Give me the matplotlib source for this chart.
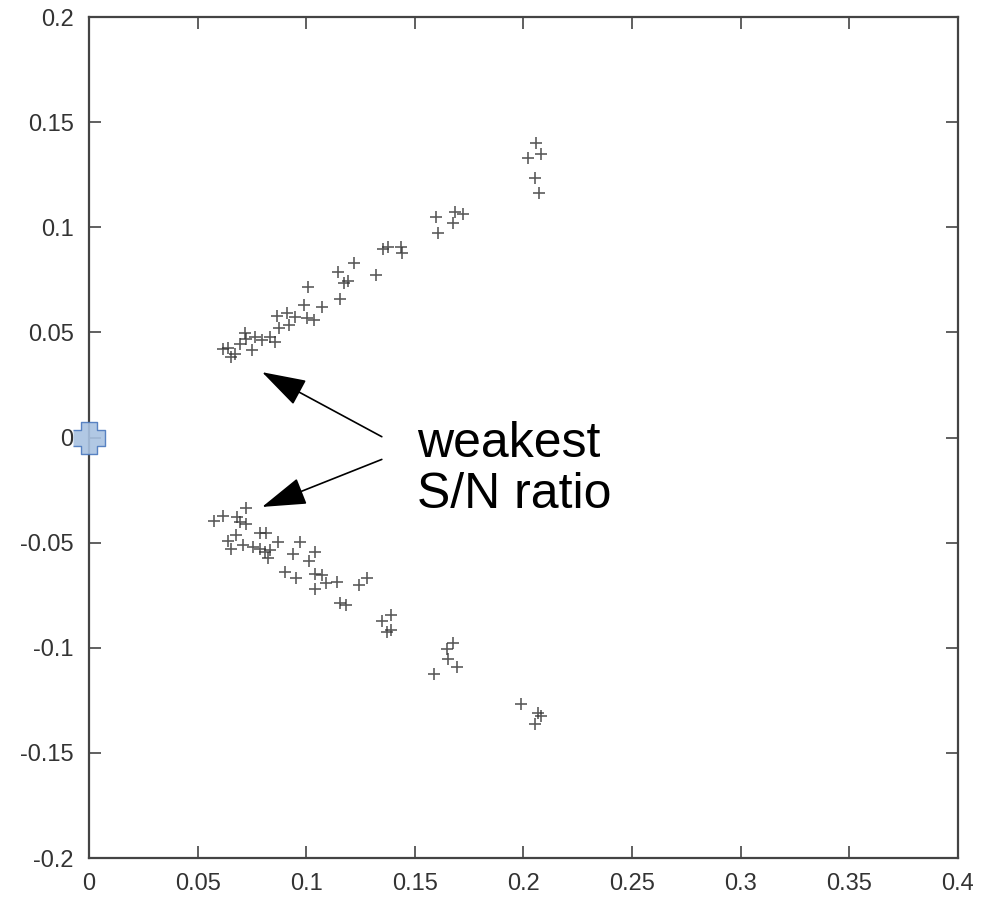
import numpy as np
import matplotlib
matplotlib.use('Agg')
import matplotlib.pyplot as plt

plt.rcParams['font.family'] = ['Liberation Sans', 'DejaVu Sans']
plt.rcParams['axes.unicode_minus'] = False

# upper branch (x, y)
upper_x = [0.0617, 0.0656, 0.0671, 0.0694, 0.0718, 0.0749, 0.0764, 0.0795, 0.0833, 0.0856,
           0.0864, 0.0876, 0.0911, 0.0923, 0.0949, 0.0988, 0.1003, 0.1006, 0.1034, 0.1073,
           0.1145, 0.1157, 0.1173, 0.1191, 0.1222, 0.1319, 0.1355, 0.1376, 0.1435, 0.1443,
           0.1597, 0.1608, 0.1675, 0.1685, 0.1721, 0.2022, 0.2060, 0.2080, 0.2052, 0.2071,
           0.0640, 0.0725]
upper_y = [0.0420, 0.0381, 0.0397, 0.0445, 0.0496, 0.0416, 0.0479, 0.0464, 0.0479, 0.0456,
           0.0578, 0.0519, 0.0594, 0.0535, 0.0575, 0.0630, 0.0567, 0.0714, 0.0559, 0.0622,
           0.0789, 0.0657, 0.0733, 0.0746, 0.0831, 0.0773, 0.0895, 0.0905, 0.0905, 0.0876,
           0.1050, 0.0971, 0.1022, 0.1074, 0.1062, 0.1331, 0.1402, 0.1348, 0.1236, 0.1161,
           0.0425, 0.0470]

# lower branch (x, y)
lower_x = [0.0574, 0.0617, 0.0682, 0.0722, 0.0694, 0.0725, 0.0676, 0.0640, 0.0656, 0.0710,
           0.0756, 0.0787, 0.0815, 0.0787, 0.0810, 0.0833, 0.0825, 0.0872, 0.0938, 0.0972,
           0.1042, 0.1011, 0.0903, 0.0954, 0.1042, 0.1073, 0.1093, 0.1042, 0.1142, 0.1242,
           0.1281, 0.1157, 0.1185, 0.1350, 0.1392, 0.1370, 0.1389, 0.1675, 0.1648, 0.1654,
           0.1694, 0.1587, 0.1991, 0.2068, 0.2080, 0.2052]
lower_y = [-0.0396, -0.0373, -0.0377, -0.0337, -0.0400, -0.0411, -0.0464, -0.0491, -0.0532, -0.0511,
           -0.0519, -0.0453, -0.0453, -0.0532, -0.0543, -0.0535, -0.0575, -0.0496, -0.0554, -0.0496,
           -0.0543, -0.0586, -0.0638, -0.0670, -0.0649, -0.0654, -0.0693, -0.0722, -0.0686, -0.0702,
           -0.0670, -0.0786, -0.0797, -0.0873, -0.0844, -0.0924, -0.0916, -0.0976, -0.1007, -0.1055,
           -0.1093, -0.1125, -0.1268, -0.1309, -0.1325, -0.1363]

xticks = [0, 0.05, 0.1, 0.15, 0.2, 0.25, 0.3, 0.35, 0.4]
xlabels = ['0', '0.05', '0.1', '0.15', '0.2', '0.25', '0.3', '0.35', '0.4']
yticks = [-0.2, -0.15, -0.1, -0.05, 0, 0.05, 0.1, 0.15, 0.2]
ylabels = ['-0.2', '-0.15', '-0.1', '-0.05', '0', '0.05', '0.1', '0.15', '0.2']

fig = plt.figure(figsize=(9.83, 8.98), dpi=100)
ax = fig.add_axes([0.0905, 0.0445, 0.884, 0.9365])

ax.plot(upper_x, upper_y, '+', color='#333333', ms=9, mew=1.2, alpha=0.8)
ax.plot(lower_x, lower_y, '+', color='#333333', ms=9, mew=1.2, alpha=0.8)

# blue cross at the origin
cross = [(-1, -0.5), (-0.5, -0.5), (-0.5, -1), (0.5, -1), (0.5, -0.5), (1, -0.5),
         (1, 0.5), (0.5, 0.5), (0.5, 1), (-0.5, 1), (-0.5, 0.5), (-1, 0.5)]
ax.plot([0], [0], marker=cross, ms=23, mfc='#a9c2e2', mec='#4a78bd', mew=1.0,
        alpha=0.9, clip_on=False, zorder=5)

arrow_style = '-|>,head_length=0.7,head_width=0.22'
ax.annotate('', xy=(0.0797, 0.0311), xytext=(0.1348, 0.0004),
            arrowprops=dict(arrowstyle=arrow_style, color='black', lw=1.2,
                            mutation_scale=40, shrinkA=0, shrinkB=0))
ax.annotate('', xy=(0.0797, -0.0330), xytext=(0.1348, -0.0104),
            arrowprops=dict(arrowstyle=arrow_style, color='black', lw=1.2,
                            mutation_scale=40, shrinkA=0, shrinkB=0))
ax.text(0.151, -0.0335, 'weakest\nS/N ratio', fontsize=36, va='baseline',
        ha='left', color='black', linespacing=1.15)

ax.set_xlim(0, 0.4)
ax.set_ylim(-0.2, 0.2)
ax.set_xticks(xticks)
ax.set_xticklabels(xlabels)
ax.set_yticks(yticks)
ax.set_yticklabels(ylabels)
ax.tick_params(direction='in', length=8.5, width=1.2, color='#444444',
               top=True, right=True, labelsize=17, labelcolor='#333333', pad=11)
for s in ax.spines.values():
    s.set_color('#444444')
    s.set_linewidth(1.6)

fig.savefig('out.png', dpi=100)
